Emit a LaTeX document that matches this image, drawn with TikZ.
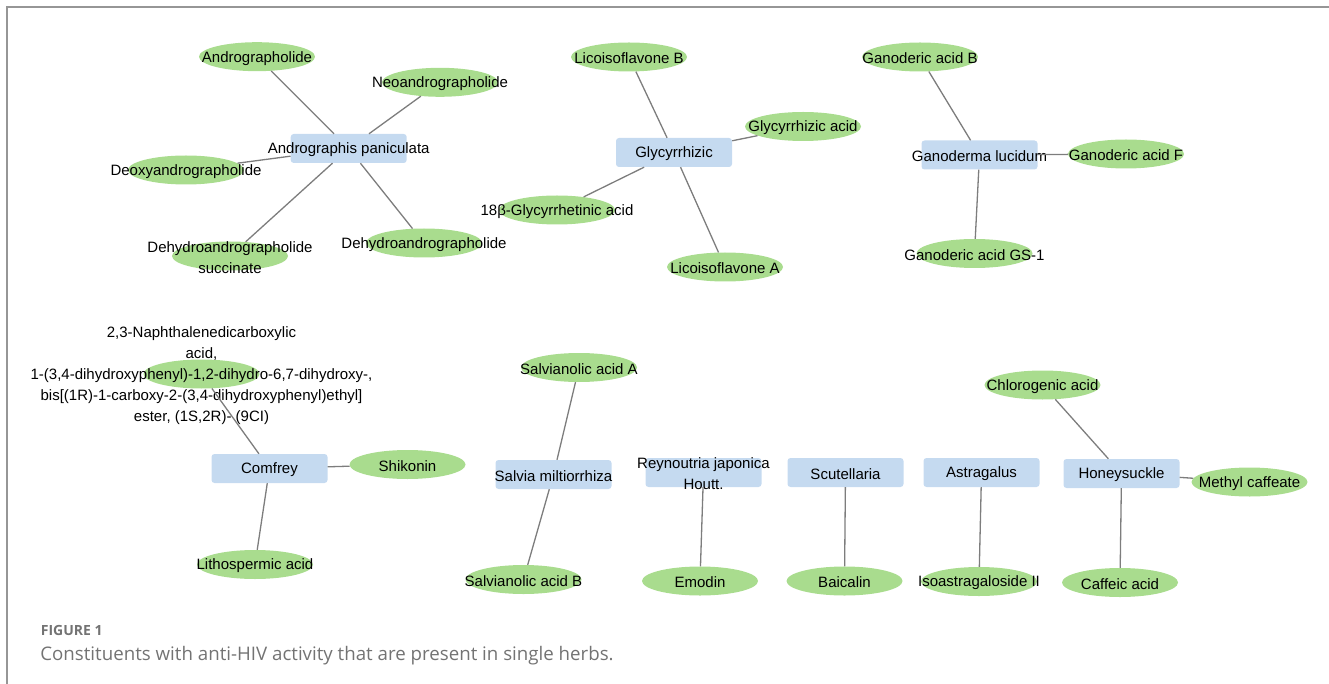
\documentclass[tikz,border=0pt]{standalone}
\usepackage{fontspec}
\setmainfont{Liberation Sans}
\newfontfamily\capfont{Open Sans}
\usetikzlibrary{shapes.geometric}
\definecolor{herbblue}{RGB}{197,218,240}
\definecolor{compgreen}{RGB}{169,220,142}
\definecolor{edgegrey}{RGB}{125,125,125}
\definecolor{framegrey}{RGB}{150,150,150}
\definecolor{capgrey}{RGB}{115,115,115}
\newcommand{\nodefont}{\fontsize{15}{21}\selectfont}

\begin{document}
\begin{tikzpicture}[x=1pt,y=-1pt
  ,every label/.style={inner sep=0pt,font=\nodefont,align=center,yshift=-1.5pt}
  ,herb/.style={rectangle,rounded corners=3pt,fill=herbblue
    ,minimum width=116pt,minimum height=29pt,inner sep=0pt}
  ,comp/.style={ellipse,fill=compgreen
    ,minimum width=116pt,minimum height=29pt,inner sep=0pt}
  ,link/.style={draw=edgegrey,line width=1.3pt}]
  \useasboundingbox (0,0) rectangle (1329,684);
  \draw[framegrey,line width=1.6pt] (1329,7) -- (7,7) -- (7,684);

  % herbs
  \node[herb,label={center:Andrographis paniculata}] (andrpan) at (348.7,148.5) {};
  \node[herb,label={center:Glycyrrhizic}] (glyc) at (674,152.5) {};
  \node[herb,label={center:Ganoderma lucidum}] (ganod) at (979.5,155) {};
  \node[herb,label={center:Comfrey}] (comfrey) at (269.5,468.5) {};
  \node[herb,label={center:Salvia miltiorrhiza}] (salvia) at (553.5,474.5) {};
  \node[herb,label={center:{Reynoutria japonica\\Houtt.}}] (reyn) at (703.5,472.5) {};
  \node[herb,label={center:Scutellaria}] (scut) at (845.5,472.5) {};
  \node[herb,label={center:Astragalus}] (astra) at (981.5,472.5) {};
  \node[herb,label={center:Honeysuckle}] (honey) at (1121.5,473.5) {};

  % constituents
  \node[comp,label={center:Andrographolide}] (andro) at (257,56.7) {};
  \node[comp,label={center:Neoandrographolide}] (neo) at (440,82.3) {};
  \node[comp,label={center:Deoxyandrographolide}] (deoxy) at (186,170) {};
  \node[comp,label={center:{Dehydroandrographolide\\succinate}}] (dehsucc) at (230,256) {};
  \node[comp,label={center:Dehydroandrographolide}] (dehydro) at (424,243) {};
  \node[comp,label={center:Licoisoflavone B}] (licob) at (629,57) {};
  \node[comp,label={center:Glycyrrhizic acid}] (glyacid) at (803,126.5) {};
  \node[comp,label={center:18β-Glycyrrhetinic acid}] (glyret) at (557,210) {};
  \node[comp,label={center:Licoisoflavone A}] (licoa) at (725,267) {};
  \node[comp,label={center:Ganoderic acid B}] (ganob) at (920,57) {};
  \node[comp,label={center:Ganoderic acid F}] (ganof) at (1126,154) {};
  \node[comp,label={center:Ganoderic acid GS-1}] (ganogs) at (974.5,253.5) {};
  \node[comp,label={center:{2,3-Naphthalenedicarboxylic\\acid,\\
    1-(3,4-dihydroxyphenyl)-1,2-dihydro-6,7-dihydroxy-,\\
    bis[(1R)-1-carboxy-2-(3,4-dihydroxyphenyl)ethyl]\\
    ester, (1S,2R)- (9CI)}}] (naph) at (201.5,374) {};
  \node[comp,label={center:Shikonin}] (shik) at (407.5,464.5) {};
  \node[comp,label={center:Lithospermic acid}] (litho) at (255,564.5) {};
  \node[comp,label={center:Salvianolic acid A}] (sala) at (579,367.5) {};
  \node[comp,label={center:Salvianolic acid B}] (salb) at (523.5,579.5) {};
  \node[comp,label={center:Emodin}] (emodin) at (700,581) {};
  \node[comp,label={center:Baicalin}] (baic) at (844.5,581) {};
  \node[comp,label={center:Isoastragaloside II}] (isoastra) at (979,581.5) {};
  \node[comp,label={center:Chlorogenic acid}] (chloro) at (1042.5,385) {};
  \node[comp,label={center:Methyl caffeate}] (methyl) at (1249.5,482) {};
  \node[comp,label={center:Caffeic acid}] (caffeic) at (1120,582.5) {};

  \path[link]
  (andrpan) edge (andro)
  (andrpan) edge (neo)
  (andrpan) edge (deoxy)
  (andrpan) edge (dehsucc)
  (andrpan) edge (dehydro)
  (glyc) edge (licob)
  (glyc) edge (glyacid)
  (glyc) edge (glyret)
  (glyc) edge (licoa)
  (ganod) edge (ganob)
  (ganod) edge (ganof)
  (ganod) edge (ganogs)
  (comfrey) edge (naph)
  (comfrey) edge (shik)
  (comfrey) edge (litho)
  (salvia) edge (sala)
  (salvia) edge (salb)
  (reyn) edge (emodin)
  (scut) edge (baic)
  (astra) edge (isoastra)
  (honey) edge (chloro)
  (honey) edge (methyl)
  (honey) edge (caffeic);

  % caption
  \node[anchor=base west,inner sep=0pt,text=capgrey
    ,font=\capfont\bfseries\fontsize{14}{16}\selectfont] (fig) at (40.7,635.5) {FIGURE 1};
  \node[anchor=base west,inner sep=0pt,text=capgrey
    ,font=\capfont\fontsize{18.7}{22}\selectfont] (cap) at (40.2,660)
    {Constituents with anti-HIV activity that are present in single herbs.};
\end{tikzpicture}
\end{document}
